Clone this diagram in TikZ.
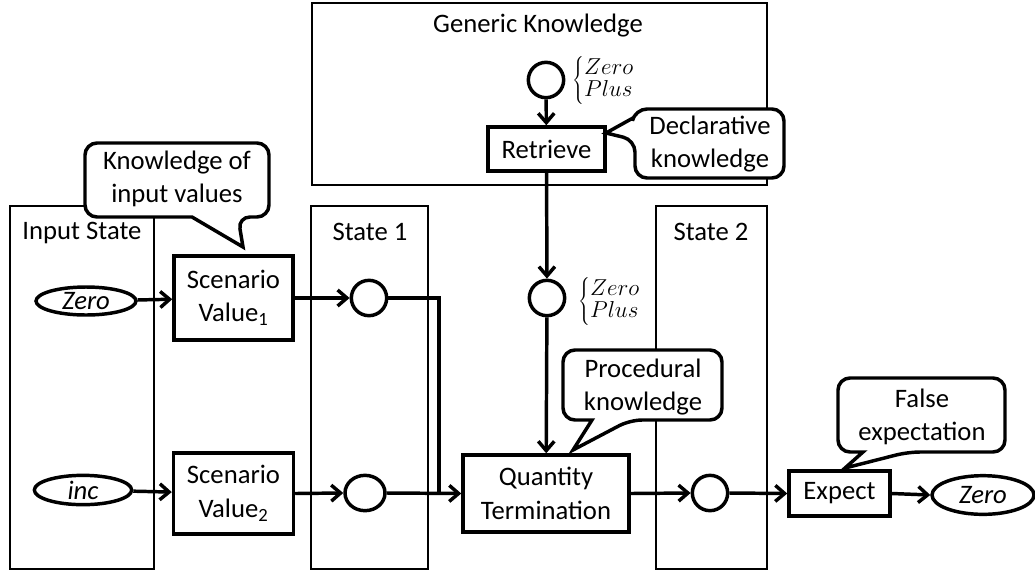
\documentclass[tikz,border=0pt]{standalone}
\usepackage{fontspec}
\setmainfont{Carlito}
\usetikzlibrary{arrows.meta,shapes.geometric}
\begin{document}
\begin{tikzpicture}[x=0.75pt,y=-0.75pt,
  thin frame/.style={draw,line width=1pt},
  box/.style={draw,line width=2.6pt,rectangle,inner sep=0pt,align=center,font=\fontsize{20}{25}\selectfont},
  oval/.style={draw,line width=2.6pt,ellipse,inner sep=0pt,font=\fontsize{20}{25}\selectfont\itshape},
  dot/.style={draw,line width=2.6pt,circle,inner sep=0pt,minimum size=26.5pt},
  lbl/.style={font=\fontsize{20}{24.5}\selectfont,align=center,inner sep=0pt},
  mth/.style={font=\fontsize{18.5}{20}\selectfont,inner sep=0pt,anchor=west},
  arr/.style={line width=2.6pt,-{Straight Barb[length=7pt,width=12pt,line width=2.6pt]}},
  plain line/.style={line width=2.6pt},
  callout/.style={draw,line width=2.6pt,rounded corners=9pt,fill=white}
]
\useasboundingbox (0,0) rectangle (1035,572);

% frames
\draw[thin frame] (312,3) rectangle (767,185);
\draw[thin frame] (10,206) rectangle (154,569);
\draw[thin frame] (311,206) rectangle (428,569);
\draw[thin frame] (656,206) rectangle (767,569);

\node[lbl] (tgk) at (538,26) {Generic Knowledge};
\node[lbl] (tin) at (82,233) {Input State};
\node[lbl] (ts1) at (370,232) {State 1};
\node[lbl] (ts2) at (711,232) {State 2};

% nodes
\node[dot] (c0) at (546,80) {};
\node[mth] (b0) at (572,80) {$\left\{\begin{array}{@{}l@{}}Zero\\[-3pt] Plus\end{array}\right.$};
\node[box,minimum width=87.75pt,minimum height=33pt] (ret) at (546.5,149) {Retrieve};

\node[oval,minimum width=75pt,minimum height=21pt] (zero) at (86,301) {Zero};
\node[oval,minimum width=73pt,minimum height=22pt] (inc) at (83,490) {inc};
\node[box,minimum width=89.25pt,minimum height=63pt] (sv1) at (233.5,298) {Scenario\\Value\textsubscript{1}};
\node[box,minimum width=90pt,minimum height=61pt] (sv2) at (233.5,493.5) {Scenario\\Value\textsubscript{2}};

\node[dot] (s1a) at (369,298) {};
\node[dot,ellipse,minimum width=30pt,minimum height=26.5pt] (s1b) at (365,493) {};
\node[dot] (mid) at (547,298) {};
\node[mth] (b1) at (578,301) {$\left\{\begin{array}{@{}l@{}}Zero\\[-3pt] Plus\end{array}\right.$};

\node[box,minimum width=124.5pt,minimum height=57.75pt] (qt) at (546,493.5) {Quantity\\Termination};
\node[dot] (s2) at (710,493) {};
\node[box,minimum width=75.75pt,minimum height=33.75pt] (exp) at (839.5,493.5) {Expect};
\node[oval,minimum width=76.5pt,minimum height=29pt] (zero2) at (983,495) {Zero};

% connectors
\draw[arr] (c0) -- (ret);
\draw[arr] (ret) -- (mid);
\draw[arr] (mid) -- (qt);
\draw[arr] (zero) -- (sv1);
\draw[arr] (inc) -- (sv2);
\draw[arr] (sv1) -- (s1a);
\draw[arr] (sv2.east) -- (s1b.west);
\coordinate (mrg) at (439,493);
\draw[plain line,line join=miter] (s1a.east) -| (mrg);
\draw[arr] (s1b.east) -- (qt.west);
\draw[arr] (qt.east) -- (s2.west);
\draw[arr] (s2.east) -- (exp.west);
\draw[arr] (exp.east) -- (zero2.west);

% callouts
\draw[callout] (85,180) -- (85,143) -- (269,143) -- (269,217) -- (238,217) [sharp corners] -- (243,247) -- (192,217) [rounded corners=9pt] -- (85,217) -- (85,180);
\node[lbl] (kiv) at (177,179) {Knowledge of\\input values};

\draw[callout] (710,109) -- (784,109) -- (784,178) -- (635,178) -- (635,140) [sharp corners] -- (606,133) -- (633,118) [rounded corners=9pt] -- (635,109) -- (710,109);
\node[lbl] (dk) at (710,144) {Declarative\\knowledge};

\draw[callout] (642,350) -- (722,350) -- (722,420) -- (630,420) [sharp corners] -- (573,450) -- (592,420) [rounded corners=9pt] -- (563,420) -- (563,350) -- (642,350);
\node[lbl] (pk) at (643,387) {Procedural\\knowledge};

\draw[callout] (920,378) -- (1005,378) -- (1005,452) -- (908,452) [sharp corners] -- (845,468) -- (863,452) [rounded corners=9pt] -- (838,452) -- (838,378) -- (920,378);
\node[lbl] (fe) at (922,417) {False\\expectation};
\end{tikzpicture}
\end{document}
